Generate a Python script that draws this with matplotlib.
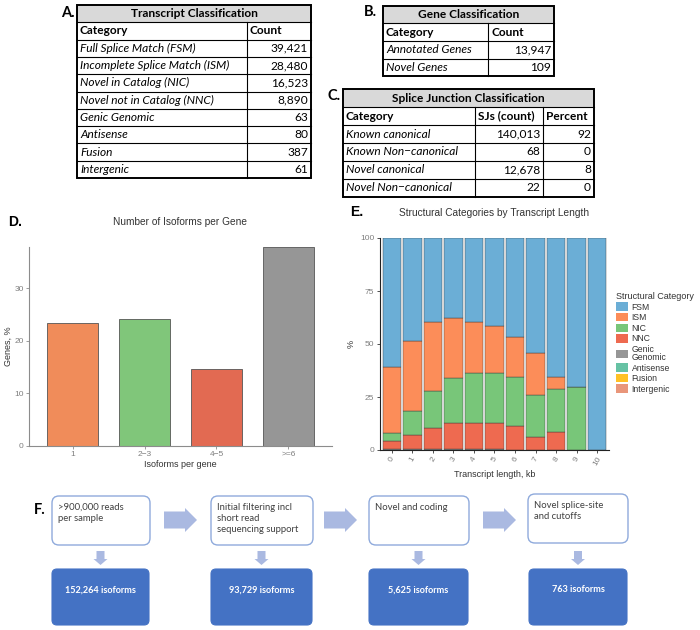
import numpy as np
import matplotlib
matplotlib.use("Agg")
import matplotlib.pyplot as plt
from matplotlib.patches import Rectangle, FancyBboxPatch, Polygon, Patch

plt.rcParams['font.family'] = ['Liberation Sans', 'DejaVu Sans']
W, H = 700, 630
TFONT = ['Lato', 'DejaVu Sans']

# ---------------- data ----------------
tx_title = "Transcript Classification"
tx_header = ["Category", "Count"]
tx_cats = ["Full Splice Match (FSM)", "Incomplete Splice Match (ISM)", "Novel in Catalog (NIC)",
           "Novel not in Catalog (NNC)", "Genic Genomic", "Antisense", "Fusion", "Intergenic"]
tx_counts = [39421, 28480, 16523, 8890, 63, 80, 387, 61]

gene_title = "Gene Classification"
gene_header = ["Category", "Count"]
gene_cats = ["Annotated Genes", "Novel Genes"]
gene_counts = [13947, 109]

sj_title = "Splice Junction Classification"
sj_header = ["Category", "SJs (count)", "Percent"]
sj_cats = ["Known canonical", "Known Non\u2212canonical", "Novel canonical", "Novel Non\u2212canonical"]
sj_counts = [140013, 68, 12678, 22]
sj_pct = [92, 0, 8, 0]

iso_bins = ["1", "2\u22123", "4\u22125", ">=6"]
iso_pct = [23.3, 24.1, 14.7, 37.9]
iso_colors = ["#F08C5A", "#80C67A", "#E26A52", "#969696"]

len_kb = ["0", "1", "2", "3", "4", "5", "6", "7", "8", "9", "10"]
struct_cats = ["FSM", "ISM", "NIC", "NNC", "Genic\nGenomic", "Antisense", "Fusion", "Intergenic"]
struct_colors = ["#6BAED6", "#FC8D59", "#78C679", "#EE6A50", "#969696", "#66C2A4", "#FFC125", "#E9967A"]
fsm = [61.0, 48.6, 39.8, 37.6, 39.5, 41.7, 46.8, 54.1, 65.4, 70.1, 100]
ism = [31.1, 33.2, 32.5, 28.6, 24.3, 22.1, 18.9, 19.8, 6.0, 0, 0]
nic = [3.7, 11.3, 17.5, 21.2, 23.3, 23.3, 23.0, 19.8, 20.1, 29.9, 0]
nnc = [3.9, 6.3, 9.9, 12.0, 12.6, 12.6, 11.3, 6.3, 8.5, 0, 0]
genic = [0.3, 0.6, 0.3, 0.6, 0.3, 0.3, 0, 0, 0, 0, 0]
antisense = [0] * 11
fusion = [0] * 11
intergenic = [0] * 11

flow_steps = [">900,000 reads\nper sample", "Initial filtering incl\nshort read\nsequencing support",
              "Novel and coding", "Novel splice-site\nand cutoffs"]
flow_counts = [152264, 93729, 5625, 763]

fig = plt.figure(figsize=(7, 6.3), dpi=100)
ov = fig.add_axes([0, 0, 1, 1])
ov.set_xlim(0, W)
ov.set_ylim(H, 0)
ov.axis("off")


def fax(l, t, r, b):
    return [l / W, 1 - b / H, (r - l) / W, (b - t) / H]


def draw_table(xs, y0, rh, title, header, rows, fs=8.6):
    ncol = len(xs) - 1
    nrow = len(rows) + 2
    y1 = y0 + nrow * rh
    ov.add_patch(Rectangle((xs[0], y0), xs[-1] - xs[0], rh, facecolor="#D9D9D9", edgecolor="none"))
    for i in range(1, nrow):
        ov.plot([xs[0], xs[-1]], [y0 + i * rh] * 2, color="k", lw=0.8)
    for j in range(1, ncol):
        ov.plot([xs[j], xs[j]], [y0 + rh, y1], color="k", lw=0.8)
    ov.add_patch(Rectangle((xs[0], y0), xs[-1] - xs[0], nrow * rh, fill=False, edgecolor="k", lw=1.4))
    ov.text((xs[0] + xs[-1]) / 2, y0 + rh / 2, title, ha="center", va="center",
            fontweight="bold", fontsize=fs, family=TFONT)
    for j, h in enumerate(header):
        ov.text(xs[j] + 3, y0 + 1.5 * rh, h, ha="left", va="center",
                fontweight="bold", fontsize=fs, family=TFONT)
    for i, row in enumerate(rows):
        yc = y0 + (i + 2.5) * rh
        for j, val in enumerate(row):
            if j == 0:
                ov.text(xs[0] + 3, yc, val, ha="left", va="center", style="italic",
                        fontsize=fs, family=TFONT)
            else:
                ov.text(xs[j + 1] - 3, yc, val, ha="right", va="center",
                        fontsize=fs, family=TFONT)


draw_table([77, 247, 311], 5, 17.3, tx_title, tx_header,
           [(c, f"{n:,}") for c, n in zip(tx_cats, tx_counts)])
draw_table([383, 488, 554], 5.7, 17.6, gene_title, gene_header,
           [(c, f"{n:,}") for c, n in zip(gene_cats, gene_counts)])
draw_table([343, 475, 543, 594], 89.3, 17.9, sj_title, sj_header,
           [(c, f"{n:,}", str(p)) for c, n, p in zip(sj_cats, sj_counts, sj_pct)])

for lab, x, y in [("A.", 61, 13), ("B.", 364, 12), ("C.", 327, 96), ("F.", 34, 510)]:
    ov.text(x, y, lab, ha="left", va="center", fontweight="bold", fontsize=10.5, family=TFONT)
for lab, x, y in [("D.", 8, 222), ("E.", 350, 212)]:
    ov.text(x, y, lab, ha="left", va="center", fontweight="bold", fontsize=10)

# ---------------- D: isoforms per gene ----------------
axd = fig.add_axes(fax(29.3, 246.7, 331.7, 445.7))
axd.set_facecolor("none")
xd = np.arange(len(iso_bins))
axd.bar(xd, iso_pct, width=0.7, color=iso_colors, edgecolor="#555555", linewidth=0.6)
axd.set_xlim(-0.6, len(iso_bins) - 0.4)
axd.set_ylim(0, max(iso_pct))
axd.set_xticks(xd)
axd.set_xticklabels(iso_bins)
axd.set_yticks([0, 10, 20, 30])
for s in ["top", "right"]:
    axd.spines[s].set_visible(False)
for s in ["left", "bottom"]:
    axd.spines[s].set_color("#8C8C8C")
    axd.spines[s].set_linewidth(0.8)
axd.tick_params(colors="#8C8C8C", labelcolor="#7F7F7F", labelsize=6, length=2, width=0.6, pad=2)
axd.set_xlabel("Isoforms per gene", fontsize=6.5, color="#333333", labelpad=1)
axd.set_ylabel("Genes, %", fontsize=6.5, color="#333333", labelpad=1)
fig.text(180 / W, 1 - 222 / H, "Number of Isoforms per Gene", ha="center", va="center",
         fontsize=7.3, color="#333333")

# ---------------- E: structural categories by length ----------------
axe = fig.add_axes(fax(379.7, 238, 609.3, 450))
axe.set_facecolor("none")
xe = np.arange(len(len_kb))
series = [fsm, ism, nic, nnc, genic, antisense, fusion, intergenic]
bottom = np.zeros(len(len_kb))
for vals, col in list(zip(series, struct_colors))[::-1]:
    v = np.array(vals, dtype=float)
    axe.bar(xe, v, bottom=bottom, width=0.88, color=col, edgecolor="#3C3C3C", linewidth=0.3)
    bottom += v
axe.set_xlim(-0.6, len(len_kb) - 0.4)
axe.set_ylim(0, 100)
axe.set_xticks(xe)
axe.set_xticklabels(len_kb, rotation=60, ha="center", va="top")
axe.set_yticks([0, 25, 50, 75, 100])
for s in ["top", "right"]:
    axe.spines[s].set_visible(False)
for s in ["left", "bottom"]:
    axe.spines[s].set_color("#222222")
    axe.spines[s].set_linewidth(0.8)
axe.tick_params(colors="#333333", labelcolor="#7F7F7F", labelsize=6, length=2, width=0.6, pad=2)
axe.set_xlabel("Transcript length, kb", fontsize=6.5, color="#333333", labelpad=2)
axe.set_ylabel("%", fontsize=6.5, color="#333333", labelpad=3)
fig.text(494 / W, 1 - 213 / H, "Structural Categories by Transcript Length", ha="center",
         va="center", fontsize=7.3, color="#333333")
handles = [Patch(facecolor=c, edgecolor="none") for c in struct_colors]
leg = axe.legend(handles, struct_cats, title="Structural Category", loc="upper left",
                 bbox_to_anchor=(616 / W, 1 - 292 / H), bbox_transform=fig.transFigure,
                 frameon=False, fontsize=6.2, title_fontsize=6.5, handlelength=1.4,
                 handleheight=1.15, handletextpad=0.4, labelspacing=0.16, borderpad=0,
                 borderaxespad=0, alignment="left")
for t in leg.get_texts():
    t.set_color("#333333")
    t.set_linespacing(0.9)
leg.get_title().set_color("#333333")

# ---------------- F: flow diagram ----------------
arrow_col = "#AAB9E1"
white_boxes = [(52, 496, 150, 545), (211, 496, 313, 545), (369, 496, 469, 545), (528, 494, 628, 543)]
blue_boxes = [(52, 569, 149, 625), (211, 569, 312, 625), (369, 569, 468, 625), (529, 569, 627, 625)]
for (l, t, r, b), txt in zip(white_boxes, flow_steps):
    ov.add_patch(FancyBboxPatch((l, t), r - l, b - t, boxstyle="round,pad=0,rounding_size=7",
                                facecolor="white", edgecolor="#8FAADC", lw=1.0))
    ov.text(l + 6, t + 7, txt, ha="left", va="top", fontsize=6.8, color="#404040",
            family=TFONT, linespacing=1.3)
for (l, t, r, b), n in zip(blue_boxes, flow_counts):
    ov.add_patch(FancyBboxPatch((l, t), r - l, b - t, boxstyle="round,pad=0,rounding_size=5",
                                facecolor="#4472C4", edgecolor="#4472C4", lw=0.8))
    ov.text((l + r) / 2, t + 21, f"{n:,} isoforms", ha="center", va="center", fontsize=6.6,
            fontweight="bold", color="white", family=TFONT)
    cx = (l + r) / 2
    ov.add_patch(Polygon([(cx - 4, 551), (cx + 4, 551), (cx + 4, 559), (cx + 7, 559), (cx, 565),
                          (cx - 7, 559), (cx - 4, 559)], closed=True, facecolor=arrow_col,
                         edgecolor="none"))
for x0 in [164, 324, 483]:
    cy = 520
    ov.add_patch(Polygon([(x0, cy - 8.5), (x0 + 21, cy - 8.5), (x0 + 21, cy - 12), (x0 + 33, cy),
                          (x0 + 21, cy + 12), (x0 + 21, cy + 8.5), (x0, cy + 8.5)], closed=True,
                         facecolor=arrow_col, edgecolor="none"))

fig.savefig("out.png", dpi=100)
